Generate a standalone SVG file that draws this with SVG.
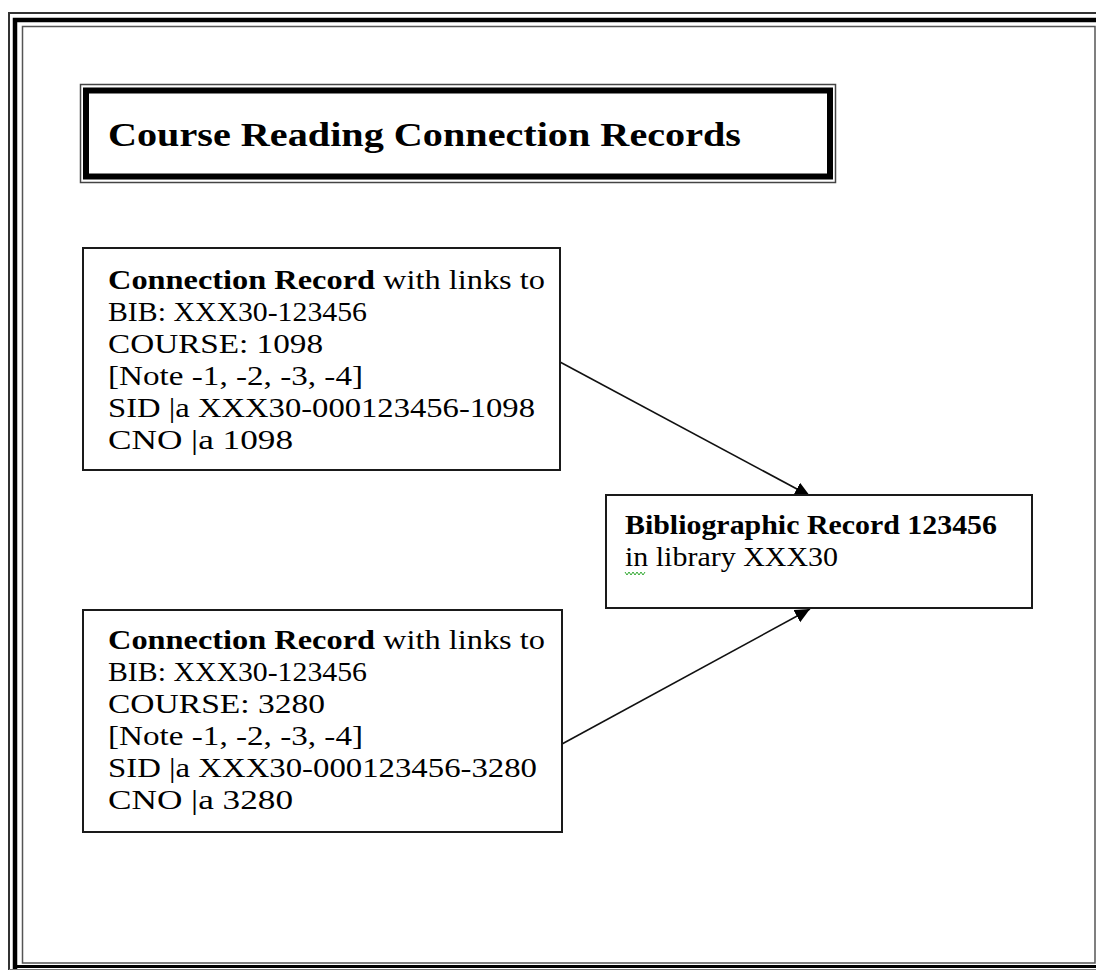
<svg xmlns="http://www.w3.org/2000/svg" width="1096" height="970" viewBox="0 0 1096 970">
<style>
.box{fill:#fff;stroke:#1a1a1a;stroke-width:2}
.t{font-family:"Liberation Serif","Times New Roman",serif;font-size:28px;fill:#000}
.b{font-weight:bold}
.ttl{font-family:"Liberation Serif","Times New Roman",serif;font-size:34px;font-weight:bold;fill:#000}
.conn{stroke:#111;stroke-width:1.6;fill:none}
</style>
<defs>
<marker id="ah" markerUnits="userSpaceOnUse" markerWidth="18" markerHeight="16" refX="15" refY="7" orient="auto">
<path d="M0,0 L15,7 L0,14 z" fill="#000"/>
</marker>
</defs>
<rect width="1096" height="970" fill="#fff"/>
<g id="page-border">
<path d="M9,970 V13 H1096" fill="none" stroke="#333" stroke-width="2"/>
<path d="M15,970 V20 H1096" fill="none" stroke="#000" stroke-width="4.5"/>
<line x1="15" y1="966.5" x2="1096" y2="966.5" stroke="#000" stroke-width="3"/>
<line x1="9" y1="969.5" x2="1096" y2="969.5" stroke="#777" stroke-width="1"/>
<rect x="22.5" y="26.5" width="1072.5" height="936.5" fill="none" stroke="#555" stroke-width="1.5"/>
</g>
<g id="connectors">
<line class="conn" x1="560" y1="362" x2="810" y2="496" marker-end="url(#ah)"/>
<line class="conn" x1="562" y1="744" x2="810" y2="609" marker-end="url(#ah)"/>
</g>
<g id="title">
<rect x="80.5" y="84.5" width="755" height="98" fill="#fff" stroke="#444" stroke-width="1.5"/>
<rect x="86" y="90.5" width="744" height="86" fill="none" stroke="#000" stroke-width="6"/>
<text class="ttl" x="108" y="146" textLength="633" lengthAdjust="spacingAndGlyphs">Course Reading Connection Records</text>
</g>
<g id="bib-record">
<rect class="box" x="606" y="495" width="426" height="113"/>
<text class="t" x="625" y="534" textLength="372" lengthAdjust="spacingAndGlyphs"><tspan class="b">Bibliographic Record 123456</tspan></text>
<text class="t" x="625" y="566" textLength="213" lengthAdjust="spacingAndGlyphs">in library XXX30</text>
<polyline points="625,572 627,575 629,572 631,575 633,572 635,575 637,572 639,575 641,572 643,575 645,572" fill="none" stroke="#3a3" stroke-width="1"/>
</g>
<g id="connection-1098">
<rect class="box" x="83" y="248" width="477" height="222"/>
<text class="t" x="108" y="289" textLength="437" lengthAdjust="spacingAndGlyphs"><tspan class="b">Connection Record</tspan> with links to</text>
<text class="t" x="108" y="321" textLength="259" lengthAdjust="spacingAndGlyphs">BIB: XXX30-123456</text>
<text class="t" x="108" y="353" textLength="215" lengthAdjust="spacingAndGlyphs">COURSE: 1098</text>
<text class="t" x="108" y="385" textLength="255" lengthAdjust="spacingAndGlyphs">[Note -1, -2, -3, -4]</text>
<text class="t" x="108" y="417" textLength="427" lengthAdjust="spacingAndGlyphs">SID |a XXX30-000123456-1098</text>
<text class="t" x="108" y="449" textLength="185" lengthAdjust="spacingAndGlyphs">CNO |a 1098</text>
</g>
<g id="connection-3280">
<rect class="box" x="83" y="610" width="479" height="222"/>
<text class="t" x="108" y="649" textLength="437" lengthAdjust="spacingAndGlyphs"><tspan class="b">Connection Record</tspan> with links to</text>
<text class="t" x="108" y="681" textLength="259" lengthAdjust="spacingAndGlyphs">BIB: XXX30-123456</text>
<text class="t" x="108" y="713" textLength="217" lengthAdjust="spacingAndGlyphs">COURSE: 3280</text>
<text class="t" x="108" y="745" textLength="255" lengthAdjust="spacingAndGlyphs">[Note -1, -2, -3, -4]</text>
<text class="t" x="108" y="777" textLength="429" lengthAdjust="spacingAndGlyphs">SID |a XXX30-000123456-3280</text>
<text class="t" x="108" y="809" textLength="185" lengthAdjust="spacingAndGlyphs">CNO |a 3280</text>
</g>
</svg>
